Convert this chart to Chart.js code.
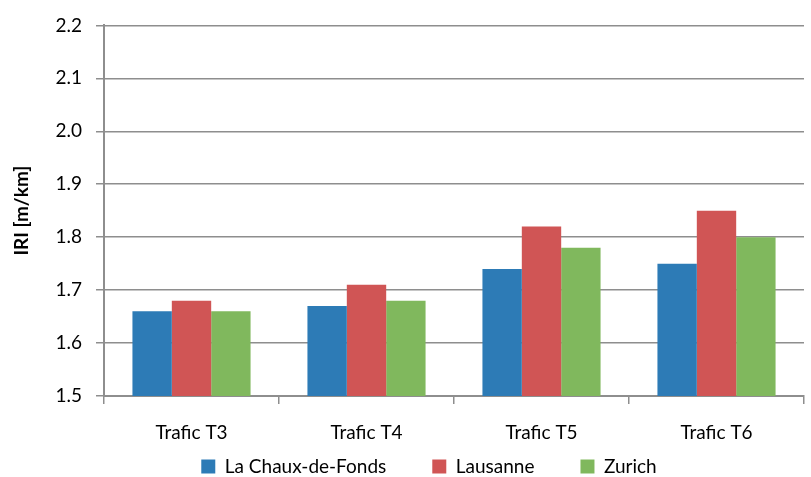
<!DOCTYPE html>
<html>
<head>
<meta charset="utf-8">
<script src="https://cdn.jsdelivr.net/npm/chart.js@4/dist/chart.umd.min.js"></script>
<style>
  html, body { margin: 0; padding: 0; background: #fff; }
  #wrap { width: 811px; height: 477px; }
</style>
</head>
<body>
<div id="wrap"><canvas id="chart"></canvas></div>
<script>
const categories = ['Trafic T3', 'Trafic T4', 'Trafic T5', 'Trafic T6'];
const chauxDeFonds = [1.66, 1.67, 1.74, 1.75];
const lausanne = [1.68, 1.71, 1.82, 1.85];
const zurich = [1.66, 1.68, 1.78, 1.80];

const font = "Lato, 'Open Sans', sans-serif";
const gridColor = '#8e8e8e';

Chart.defaults.font.family = font;
Chart.defaults.color = '#000';

// legend padding is large to get the wide gaps between items,
// so pull the legend back up closer to the axis labels (and a bit right)
const legendShift = {
  id: 'legendShift',
  afterLayout(chart) {
    const lg = chart.legend;
    if (!lg) return;
    lg.top -= 35;
    lg.bottom -= 35;
    lg.left += 22;
    lg.right += 22;
  },
};

new Chart(document.getElementById('chart'), {
  type: 'bar',
  data: {
    labels: categories,
    datasets: [
      { label: 'La Chaux-de-Fonds', data: chauxDeFonds, backgroundColor: '#2d7bb6' },
      { label: 'Lausanne', data: lausanne, backgroundColor: '#d05555' },
      { label: 'Zurich', data: zurich, backgroundColor: '#80b85d' },
    ],
  },
  plugins: [legendShift],
  options: {
    responsive: true,
    maintainAspectRatio: false,
    animation: false,
    layout: { padding: { top: 19, right: 7, left: 10, bottom: -44 } },
    datasets: { bar: { categoryPercentage: 0.675, barPercentage: 1 } },
    plugins: {
      tooltip: { enabled: false },
      legend: {
        position: 'bottom',
        labels: {
          font: { size: 19 },
          boxWidth: 14,
          boxHeight: 14,
          padding: 46,
        },
      },
    },
    scales: {
      x: {
        grid: {
          offset: true,
          drawOnChartArea: false,
          color: gridColor,
          tickLength: 8,
          lineWidth: 1.5,
        },
        border: { color: gridColor, width: 2 },
        ticks: { font: { size: 19 }, padding: 17 },
        afterFit: (scale) => { scale.height = 50; },
      },
      y: {
        min: 1.5,
        max: 2.2,
        ticks: {
          stepSize: 0.1,
          font: { size: 19 },
          padding: 14,
          callback: (v) => Number(v).toFixed(1),
        },
        grid: { color: gridColor, lineWidth: 1.5, tickLength: 8 },
        border: { color: gridColor, width: 2 },
        title: {
          display: true,
          text: 'IRI [m/km]',
          font: { size: 19, weight: 'bold' },
          padding: { top: 0, bottom: 6 },
        },
        afterFit: (scale) => { scale.width = 94; },
      },
    },
  },
});
</script>
</body>
</html>
